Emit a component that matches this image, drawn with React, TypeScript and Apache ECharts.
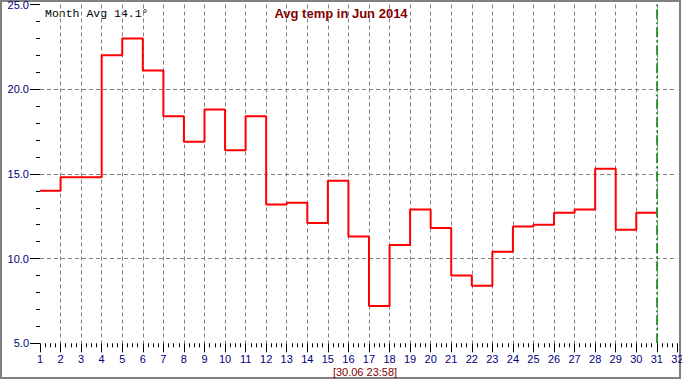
import React, { useEffect, useRef } from "react";
import * as echarts from "echarts";

const days = [1, 2, 3, 4, 5, 6, 7, 8, 9, 10, 11, 12, 13, 14, 15, 16, 17, 18, 19, 20, 21, 22, 23, 24, 25, 26, 27, 28, 29, 30];
const temps = [14.0, 14.8, 14.8, 22.0, 23.0, 21.1, 18.4, 16.9, 18.8, 16.4, 18.4, 13.2, 13.3, 12.1, 14.6, 11.3, 7.2, 10.8, 12.9, 11.8, 9.0, 8.4, 10.4, 11.9, 12.0, 12.7, 12.9, 15.3, 11.7, 12.7];
const titleText = "Avg temp in Jun 2014";
const stampText = "[30.06 23:58]";
const unitText = "°C";
const markerDay = 31;

export default function App() {
  const ref = useRef<HTMLDivElement>(null);
  useEffect(() => {
    if (!ref.current) return;
    const chart = echarts.init(ref.current, null, { renderer: "svg" });
    const stepData: number[][] = days.map((d, i) => [d, temps[i]]);
    stepData.push([days[days.length - 1] + 1, temps[temps.length - 1]]);
    const avg = temps.reduce((a, b) => a + b, 0) / temps.length;
    const labelFont = { color: "#000080", fontFamily: "Liberation Sans, Arial, sans-serif", fontSize: 11 };
    chart.setOption({
      animation: false,
      backgroundColor: "#ffffff",
      grid: { left: 40, right: 4.6, top: 4.5, bottom: 36.7, containLabel: false, outerBoundsMode: "none" },
      xAxis: {
        type: "value",
        min: 1,
        max: 32,
        interval: 1,
        axisLine: { show: false },
        axisTick: { show: true, length: 9, lineStyle: { color: "#000000", width: 1 } },
        minorTick: { show: true, splitNumber: 4, length: 4, lineStyle: { color: "#000000", width: 1 } },
        axisLabel: { ...labelFont, margin: 10, showMinLabel: true, showMaxLabel: true, hideOverlap: false },
        splitLine: { show: true, showMinLine: false, showMaxLine: false, lineStyle: { color: "#808080", type: [4, 3], width: 1 } },
      },
      yAxis: {
        type: "value",
        min: 5,
        max: 25,
        interval: 5,
        name: unitText,
        nameLocation: "middle",
        nameRotate: 90,
        nameGap: 27,
        nameTextStyle: { color: "#800000", fontFamily: "Liberation Sans, Arial, sans-serif", fontSize: 12, fontWeight: "bold" },
        axisLine: { show: false },
        axisTick: { show: true, length: 10, lineStyle: { color: "#000000", width: 1 } },
        minorTick: { show: true, splitNumber: 5, length: 4, lineStyle: { color: "#000000", width: 1 } },
        axisLabel: { ...labelFont, margin: 11, formatter: (v: number) => v.toFixed(1) },
        splitLine: { show: true, showMinLine: false, showMaxLine: false, lineStyle: { color: "#808080", type: [4, 3], width: 1 } },
      },
      series: [
        {
          type: "line",
          step: "end",
          data: stepData,
          showSymbol: false,
          lineStyle: { color: "#ff0000", width: 2 },
          z: 3,
          markLine: {
            silent: true,
            symbol: "none",
            label: { show: false },
            lineStyle: { color: "#008000", type: [10, 3, 2, 3], width: 1.5 },
            data: [{ xAxis: markerDay }],
            z: 4,
          },
        },
      ],
      graphic: [
        {
          type: "rect",
          shape: { x: 1, y: 1, width: 679, height: 377 },
          style: { fill: "none", stroke: "#808080", lineWidth: 2 },
          silent: true,
        },
        {
          type: "text",
          x: 341,
          y: 13,
          style: {
            text: titleText,
            fill: "#800000",
            font: "bold 13px 'Liberation Sans', Arial, sans-serif",
            textAlign: "center",
            textVerticalAlign: "middle",
          },
        },
        {
          type: "text",
          x: 45,
          y: 13,
          style: {
            text: "Month Avg " + avg.toFixed(1) + "°",
            fill: "#000000",
            font: "11.5px 'Liberation Mono', 'Courier New', monospace",
            textAlign: "left",
            textVerticalAlign: "middle",
          },
        },
        {
          type: "text",
          x: 365,
          y: 372,
          style: {
            text: stampText,
            fill: "#800000",
            font: "11px 'Liberation Sans', Arial, sans-serif",
            textAlign: "center",
            textVerticalAlign: "middle",
          },
        },
      ],
    });
    return () => chart.dispose();
  }, []);
  return (
    <div
      ref={ref}
      style={{ position: "fixed", left: 0, top: 0, width: 682, height: 380, background: "#fff" }}
    />
  );
}
